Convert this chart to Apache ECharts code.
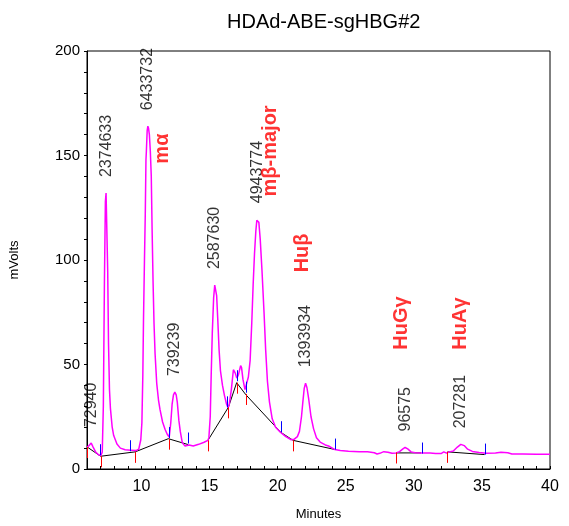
<!DOCTYPE html>
<html>
<head>
<meta charset="utf-8">
<script src="https://cdn.jsdelivr.net/npm/echarts@6/dist/echarts.min.js"></script>
<style>
  html, body { margin: 0; padding: 0; background: #fff; }
  #main { width: 569px; height: 526px; }
</style>
</head>
<body>
<div id="main"></div>
<script>
// detector trace (minutes, mVolts)
const traceTime = [6.00, 6.15, 6.31, 6.45, 6.65, 6.85, 7.02, 7.12, 7.20, 7.28, 7.35, 7.40, 7.47, 7.52, 7.58, 7.65, 7.72, 7.85, 7.96, 8.20,
  8.45, 8.80, 9.20, 9.60, 9.80, 9.95, 10.03, 10.10, 10.15, 10.22, 10.28, 10.33, 10.36, 10.42, 10.47, 10.52, 10.58, 10.65, 10.72, 10.78,
  10.85, 10.92, 11.00, 11.12, 11.25, 11.36, 11.55, 11.73, 11.90, 12.04, 12.15, 12.25, 12.35, 12.45, 12.55, 12.63, 12.75, 12.85, 13.00, 13.20,
  13.50, 13.80, 14.20, 14.60, 14.88, 14.95, 15.05, 15.12, 15.20, 15.30, 15.38, 15.45, 15.52, 15.60, 15.70, 15.80, 15.95, 16.10, 16.25, 16.36,
  16.45, 16.60, 16.75, 16.88, 17.00, 17.12, 17.28, 17.35, 17.45, 17.60, 17.70, 17.85, 17.98, 18.10, 18.20, 18.30, 18.40, 18.47, 18.55, 18.62,
  18.72, 18.85, 19.00, 19.12, 19.25, 19.40, 19.60, 19.85, 20.20, 20.60, 21.00, 21.20, 21.45, 21.60, 21.75, 21.85, 21.95, 22.05, 22.15, 22.28,
  22.45, 22.64, 22.85, 23.12, 23.50, 23.74, 24.20, 24.60, 25.20, 26.00, 26.60, 27.10, 27.30, 27.50, 27.80, 28.10, 28.40, 28.70, 28.95, 29.20,
  29.36, 29.55, 29.80, 30.10, 30.60, 31.20, 31.60, 32.00, 32.20, 32.40, 32.60, 32.90, 33.20, 33.45, 33.70, 33.95, 34.30, 34.80, 35.30, 36.00,
  36.40, 36.90, 37.20, 38.00, 39.00, 40.00];
const traceMv = [10.5, 11.2, 12.4, 10.5, 8.0, 6.8, 6.5, 8, 30, 90, 128, 132, 132, 95, 60, 38, 29, 20, 16, 12,
  10, 9.2, 9.0, 8.8, 9.5, 14, 22, 45, 72, 100, 122, 148, 152, 162, 164, 163, 160, 152, 140, 115,
  90, 70, 55, 41, 33, 28.5, 22.5, 19, 16.5, 15.3, 22, 31, 35.5, 36.8, 35.5, 32, 23, 18, 12.5, 11,
  11.5, 11.0, 11.8, 12.8, 13.7, 15, 25, 45, 65, 82, 88, 87.5, 83, 72, 57, 47, 40, 35, 31, 29.3,
  31, 38, 47.5, 46, 43.5, 45, 49.5, 48.5, 43, 38, 38.5, 44, 52, 70, 88, 103, 114, 119, 119.5, 118,
  110, 95, 75, 57, 42, 32, 24, 20, 17.6, 15.5, 14, 14.2, 15.5, 18, 25, 32, 38.5, 41, 39, 33.5,
  25, 19.2, 15, 12.9, 11.5, 11, 9.3, 8.8, 8.5, 8.3, 8.2, 7.8, 7.2, 7.5, 8.3, 8.0, 7.5, 7.7, 8.3, 9.6,
  10.3, 9.6, 8.2, 7.8, 7.6, 7.6, 7.4, 7.4, 8.2, 7.6, 8.2, 8.6, 10.5, 11.8, 11.2, 9.5, 8.4, 7.9, 7.5, 7.6,
  8.0, 7.8, 7.2, 7.2, 7.1, 7.1];

// integration baselines, one array pair per segment
const baseTime = [[6.02, 7.00, 9.54, 11.97, 13.42], [14.88, 16.38, 16.99, 17.67, 20.22, 21.14, 24.22], [28.70, 30.53], [32.47, 35.20]];
const baseMv = [[10.5, 6.1, 8.2, 14.5, 11.7], [13.7, 29.5, 41.3, 35.5, 17.6, 13.7, 9.3], [7.7, 7.7], [8.2, 6.9]];

// peak start (red) and end (blue) markers
const startTime = [6.02, 7.04, 9.54, 11.99, 14.88, 16.38, 16.99, 17.67, 21.14, 28.71, 32.47];
const startMv = [10.5, 6.1, 8.2, 14.5, 13.7, 29.5, 41.3, 35.9, 13.7, 7.9, 8.2];
const endTime = [6.92, 9.13, 11.99, 13.42, 16.28, 16.99, 17.67, 20.21, 24.22, 30.58, 35.21];
const endMv = [6.6, 8.5, 14.8, 12.2, 29.5, 42, 36.5, 17.6, 9.3, 7.4, 6.9];

// peak apexes and areas
const peakTime = [6.31, 7.44, 10.47, 12.45, 15.40, 18.52, 22.05, 29.36, 33.45];
const peakMv = [12.4, 132, 164, 36.8, 88, 119.5, 41, 10.3, 11.8];
const peakArea = ['72940', '2374633', '6433732', '739239', '2587630', '4943774', '1393934', '96575', '207281'];

// globin chain names
const chainName = ['mα', 'mβ-major', 'Huβ', 'HuGγ', 'HuAγ'];
const chainTime = [11.53, 19.49, 21.79, 29.07, 33.44];
const chainMv = [146.1, 130.4, 94.1, 57.1, 57.1];

const FONT = '"Liberation Sans", Arial, sans-serif';

const zip = (a, b) => a.map((x, i) => [x, b[i]]);

function tickSeries(t, v, color, dir) {
  return {
    type: 'custom',
    data: zip(t, v),
    encode: { x: 0, y: 1 },
    z: 5,
    renderItem(params, api) {
      const p = api.coord([api.value(0), api.value(1)]);
      const x = Math.round(p[0]) + 0.5;
      return {
        type: 'line',
        shape: { x1: x, y1: p[1], x2: x, y2: p[1] + dir * 11 },
        style: { stroke: color, lineWidth: 1 }
      };
    }
  };
}

const series = [];
baseTime.forEach((seg, i) => {
  series.push({
    type: 'line',
    data: zip(seg, baseMv[i]),
    showSymbol: false,
    lineStyle: { color: '#000', width: 1 },
    z: 2,
    silent: true
  });
});
series.push({
  type: 'line',
  data: zip(traceTime, traceMv),
  showSymbol: false,
  lineStyle: { color: '#ff00ff', width: 1.5 },
  z: 3,
  silent: true
});
series.push(tickSeries(startTime, startMv, '#ff0000', 1));
series.push(tickSeries(endTime, endMv, '#0000ff', -1));
series.push({
  type: 'scatter',
  data: zip(peakTime, peakMv),
  symbolSize: 1,
  itemStyle: { color: 'rgba(0,0,0,0)' },
  z: 6,
  label: {
    show: true,
    position: 'top',
    distance: 14,
    rotate: 90,
    align: 'left',
    verticalAlign: 'middle',
    offset: [1.5, 0],
    color: '#000',
    fontFamily: FONT,
    fontSize: 16,
    formatter: p => peakArea[p.dataIndex]
  }
});
series.push({
  type: 'scatter',
  data: zip(chainTime, chainMv),
  symbolSize: 1,
  itemStyle: { color: 'rgba(0,0,0,0)' },
  z: 7,
  label: {
    show: true,
    position: 'inside',
    rotate: 90,
    align: 'left',
    verticalAlign: 'middle',
    color: '#ff0000',
    fontFamily: FONT,
    fontSize: 20,
    fontWeight: 'bold',
    formatter: p => chainName[p.dataIndex]
  }
});

const chart = echarts.init(document.getElementById('main'));
chart.setOption({
  animation: false,
  backgroundColor: '#fff',
  title: {
    text: 'HDAd-ABE-sgHBG#2',
    left: 222,
    top: 7,
    textStyle: { fontFamily: FONT, fontSize: 20, fontWeight: 'normal', color: '#000' }
  },
  grid: {
    left: 83, right: 19, top: 51, bottom: 52,
    show: true, borderColor: '#000', borderWidth: 1, backgroundColor: 'transparent'
  },
  xAxis: {
    type: 'value',
    min: 6, max: 40, interval: 1,
    name: 'Minutes',
    nameLocation: 'middle',
    nameGap: 39,
    nameTextStyle: { fontFamily: FONT, fontSize: 13, color: '#000' },
    axisLine: { lineStyle: { color: '#000', width: 1 } },
    axisTick: { inside: true, length: 3, lineStyle: { color: '#000' } },
    axisLabel: {
      margin: 10,
      fontFamily: FONT, fontSize: 16, color: '#000',
      formatter: v => (v % 5 === 0 && v >= 10) ? String(v) : ''
    },
    splitLine: { show: false }
  },
  yAxis: {
    type: 'value',
    min: 0, max: 200, interval: 50,
    name: 'mVolts',
    nameLocation: 'middle',
    nameGap: 66,
    nameTextStyle: { fontFamily: FONT, fontSize: 13, color: '#000' },
    axisLine: { show: true, lineStyle: { color: '#000', width: 1 } },
    axisTick: { show: true, length: 3, lineStyle: { color: '#000' } },
    minorTick: { show: true, splitNumber: 5, length: 3, lineStyle: { color: '#000' } },
    axisLabel: { margin: 7, fontFamily: FONT, fontSize: 15, color: '#000' },
    splitLine: { show: false }
  },
  series: series
});
</script>
</body>
</html>
